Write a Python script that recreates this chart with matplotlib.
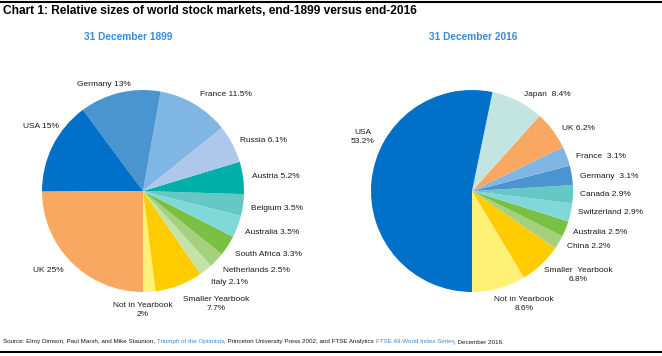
import matplotlib.pyplot as plt
from matplotlib.lines import Line2D

plt.rcParams['font.family'] = ['Liberation Sans', 'DejaVu Sans']

# ---- data ----
labels_1899 = ['Not in Yearbook\n2%', 'Smaller Yearbook\n7.7%', 'Italy 2.1%', 'Netherlands 2.5%',
               'South Africa 3.3%', 'Australia 3.5%', 'Belgium 3.5%', 'Austria 5.2%',
               'Russia 6.1%', 'France 11.5%', 'Germany 13%', 'USA 15%', 'UK 25%']
shares_1899 = [2.0, 7.7, 2.1, 2.5, 3.3, 3.5, 3.5, 5.2, 6.1, 11.5, 13.0, 15.0, 25.0]

labels_2016 = ['Not in Yearbook\n8.6%', 'Smaller  Yearbook\n6.8%', 'China 2.2%', 'Australia 2.5%',
               'Switzerland 2.9%', 'Canada 2.9%', 'Germany  3.1%', 'France  3.1%',
               'UK 6.2%', 'Japan  8.4%', 'USA\n53.2%']
shares_2016 = [8.6, 6.8, 2.2, 2.5, 2.9, 2.9, 3.1, 3.1, 6.2, 8.4, 53.2]

# ---- colours ----
colors_1899 = ['#FFF176', '#FFCC00', '#C4E3A8', '#A5D17E', '#7AC143', '#80D8D8', '#66C8C4',
               '#00B0A8', '#ADC8EA', '#80B6E4', '#4A94D0', '#0070C8', '#F9A862']
colors_2016 = ['#FFF176', '#FFCC00', '#A5D17E', '#7AC143', '#80D8D8', '#66C8C4', '#4A94D0',
               '#80B6E4', '#F9A862', '#C2E5E1', '#0070C8']

# label placement in pixels (x, y from top, alignment)
pos_1899 = [(143, 310, 'center'), (216, 304, 'center'), (211, 282, 'left'), (223, 271, 'left'),
            (235, 254, 'left'), (245, 232, 'left'), (251, 209, 'left'), (252, 177, 'left'),
            (240, 140, 'left'), (200, 95, 'left'), (77, 84, 'left'), (23, 127, 'left'),
            (33, 271, 'left')]
pos_2016 = [(524, 304, 'center'), (578, 275, 'center'), (567, 246, 'left'), (573, 232, 'left'),
            (578, 213, 'left'), (580, 195, 'left'), (580, 176, 'left'), (576, 156, 'left'),
            (562, 128, 'left'), (524, 94, 'left'), (363, 137, 'center')]

W, H = 662, 356
fig = plt.figure(figsize=(W / 100, H / 100), dpi=100)
ax = fig.add_axes([0, 0, 1, 1])

R = 101
for shares, cols, cx, cy in [(shares_1899, colors_1899, 143, 191),
                             (shares_2016, colors_2016, 472, 191)]:
    ax.pie(shares, colors=cols, startangle=270, counterclock=True,
           center=(cx, H - cy), radius=R, wedgeprops=dict(linewidth=0),
           frame=True)
ax.set_xlim(0, W)
ax.set_ylim(0, H)
ax.set_aspect('equal')
ax.axis('off')

for labs, pos in [(labels_1899, pos_1899), (labels_2016, pos_2016)]:
    for lab, (x, y, ha) in zip(labs, pos):
        ax.text(x, H - y, lab, fontsize=6, ha=ha, va='center', multialignment='center',
                color='#1a1a1a', linespacing=1.25)

# titles
fig.text(3 / W, 1 - 11 / H, 'Chart 1: Relative sizes of world stock markets, end-1899 versus end-2016',
         fontsize=8.6, fontweight='bold', va='center', ha='left', color='black')
blue = '#3A8DD6'
ax.text(128, H - 37, '31 December 1899', fontsize=7.3, fontweight='bold', color=blue,
        ha='center', va='center')
ax.text(473, H - 37, '31 December 2016', fontsize=7.3, fontweight='bold', color=blue,
        ha='center', va='center')

# frame lines
fig.add_artist(Line2D([0, 1], [1 - 2 / H, 1 - 2 / H], color='black', linewidth=1.5))
fig.add_artist(Line2D([0, 1], [1 - 352 / H, 1 - 352 / H], color='black', linewidth=1.5))

# source with coloured parts
src_size = 4.5
pieces = [('Source: Elroy Dimson, Paul Marsh, and Mike Staunton, ', '#1a1a1a'),
          ('Triumph of the Optimists', blue),
          (', Princeton University Press 2002, and FTSE Analytics ', '#1a1a1a'),
          ('FTSE All-World Index Series', blue),
          (', December 2016.', '#1a1a1a')]
prev = ax.text(3, H - 344, pieces[0][0], fontsize=src_size,
               color=pieces[0][1], ha='left', va='bottom')
for s, c in pieces[1:]:
    prev = ax.annotate(s, xy=(1, 0), xycoords=prev, fontsize=src_size,
                       color=c, ha='left', va='bottom')

fig.savefig('out.png', dpi=100)
